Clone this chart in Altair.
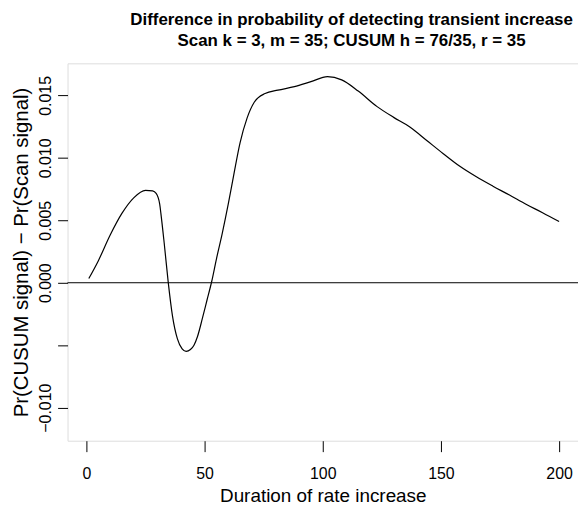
import altair as alt
import pandas as pd

# Curve (duration, difference)
duration = [1, 5, 10, 15, 20, 25, 28, 29.5, 31, 31.5, 32.9, 34.6, 36.4, 38.5, 40.5,
            42.2, 44, 45.5, 47, 49, 51, 53, 55, 57.4, 60, 62.3, 65, 68, 71, 75.6,
            81, 88, 95, 102, 108, 115, 123, 130, 137, 144, 151, 158, 165, 172,
            179, 186, 193, 200]
diff_e3 = [0.34, 1.75, 3.8, 5.55, 6.8, 7.4, 7.35, 7.15, 6.3, 5.56, 3.18, 0.05, -2.65,
           -4.5, -5.3, -5.5, -5.35, -5.0, -4.3, -2.9, -1.4, 0.1, 1.9, 3.9, 6.3, 8.6,
           11.2, 13.2, 14.45, 15.15, 15.42, 15.7, 16.1, 16.5, 16.24, 15.35, 14.1,
           13.24, 12.45, 11.39, 10.33, 9.32, 8.48, 7.73, 7.02, 6.28, 5.61, 4.9]

x_ticks = [0, 50, 100, 150, 200]
y_ticks = [-0.010, -0.005, 0.000, 0.005, 0.010, 0.015]
title_lines = ["Difference in probability of detecting transient increase",
               "Scan k = 3, m = 35; CUSUM h = 76/35, r = 35"]

df = pd.DataFrame({"d": duration, "v": [v / 1000 for v in diff_e3]})
zero = pd.DataFrame({"z": [0.0]})

FONT = "Liberation Sans"

xs = alt.Scale(domain=[-8, 208], nice=False, zero=False)
ys = alt.Scale(domain=[-0.012647, 0.017568], nice=False, zero=False)

line = alt.Chart(df).mark_line(color="black", strokeWidth=1.2, interpolate="monotone").encode(
    x=alt.X("d:Q", scale=xs,
            axis=alt.Axis(values=x_ticks, title="Duration of rate increase", grid=False,
                          domain=False, tickSize=11, tickColor="black", tickWidth=1,
                          labelFont=FONT, labelFontSize=16, labelColor="black",
                          labelPadding=14, titleFont=FONT, titleFontSize=19,
                          titleFontWeight="normal", titleColor="black", titlePadding=5,
                          labelFlush=False)),
    y=alt.Y("v:Q", scale=ys,
            axis=alt.Axis(values=y_ticks, title="Pr(CUSUM signal) \u2212 Pr(Scan signal)",
                          grid=False, domain=False, tickSize=10, tickColor="black",
                          tickWidth=1, format=".3f",
                          labelExpr="abs(datum.value + 0.005) < 1e-9 ? '' : datum.label",
                          labelAngle=270, labelAlign="center", labelBaseline="bottom",
                          labelFont=FONT, labelFontSize=16, labelColor="black",
                          labelPadding=4, titleFont=FONT, titleFontSize=20.5,
                          titleFontWeight="normal", titleColor="black", titlePadding=6,
                          labelFlush=False)),
)

rule = alt.Chart(zero).mark_rule(color="black", strokeWidth=1).encode(y=alt.Y("z:Q", scale=ys))

chart = alt.layer(rule, line).properties(
    width=514, height=380,
    title=alt.TitleParams(text=title_lines, font=FONT, fontSize=17, fontWeight="bold",
                          color="black", anchor="middle", dx=29, lineHeight=21.7, offset=13),
    padding={"left": 68, "top": 62, "right": 0, "bottom": 67},
    autosize=alt.AutoSizeParams(type="none"),
).configure_view(stroke="black", strokeWidth=1).configure(background="white")

chart.save("out.html", embed_options={"renderer": "svg", "actions": False})
